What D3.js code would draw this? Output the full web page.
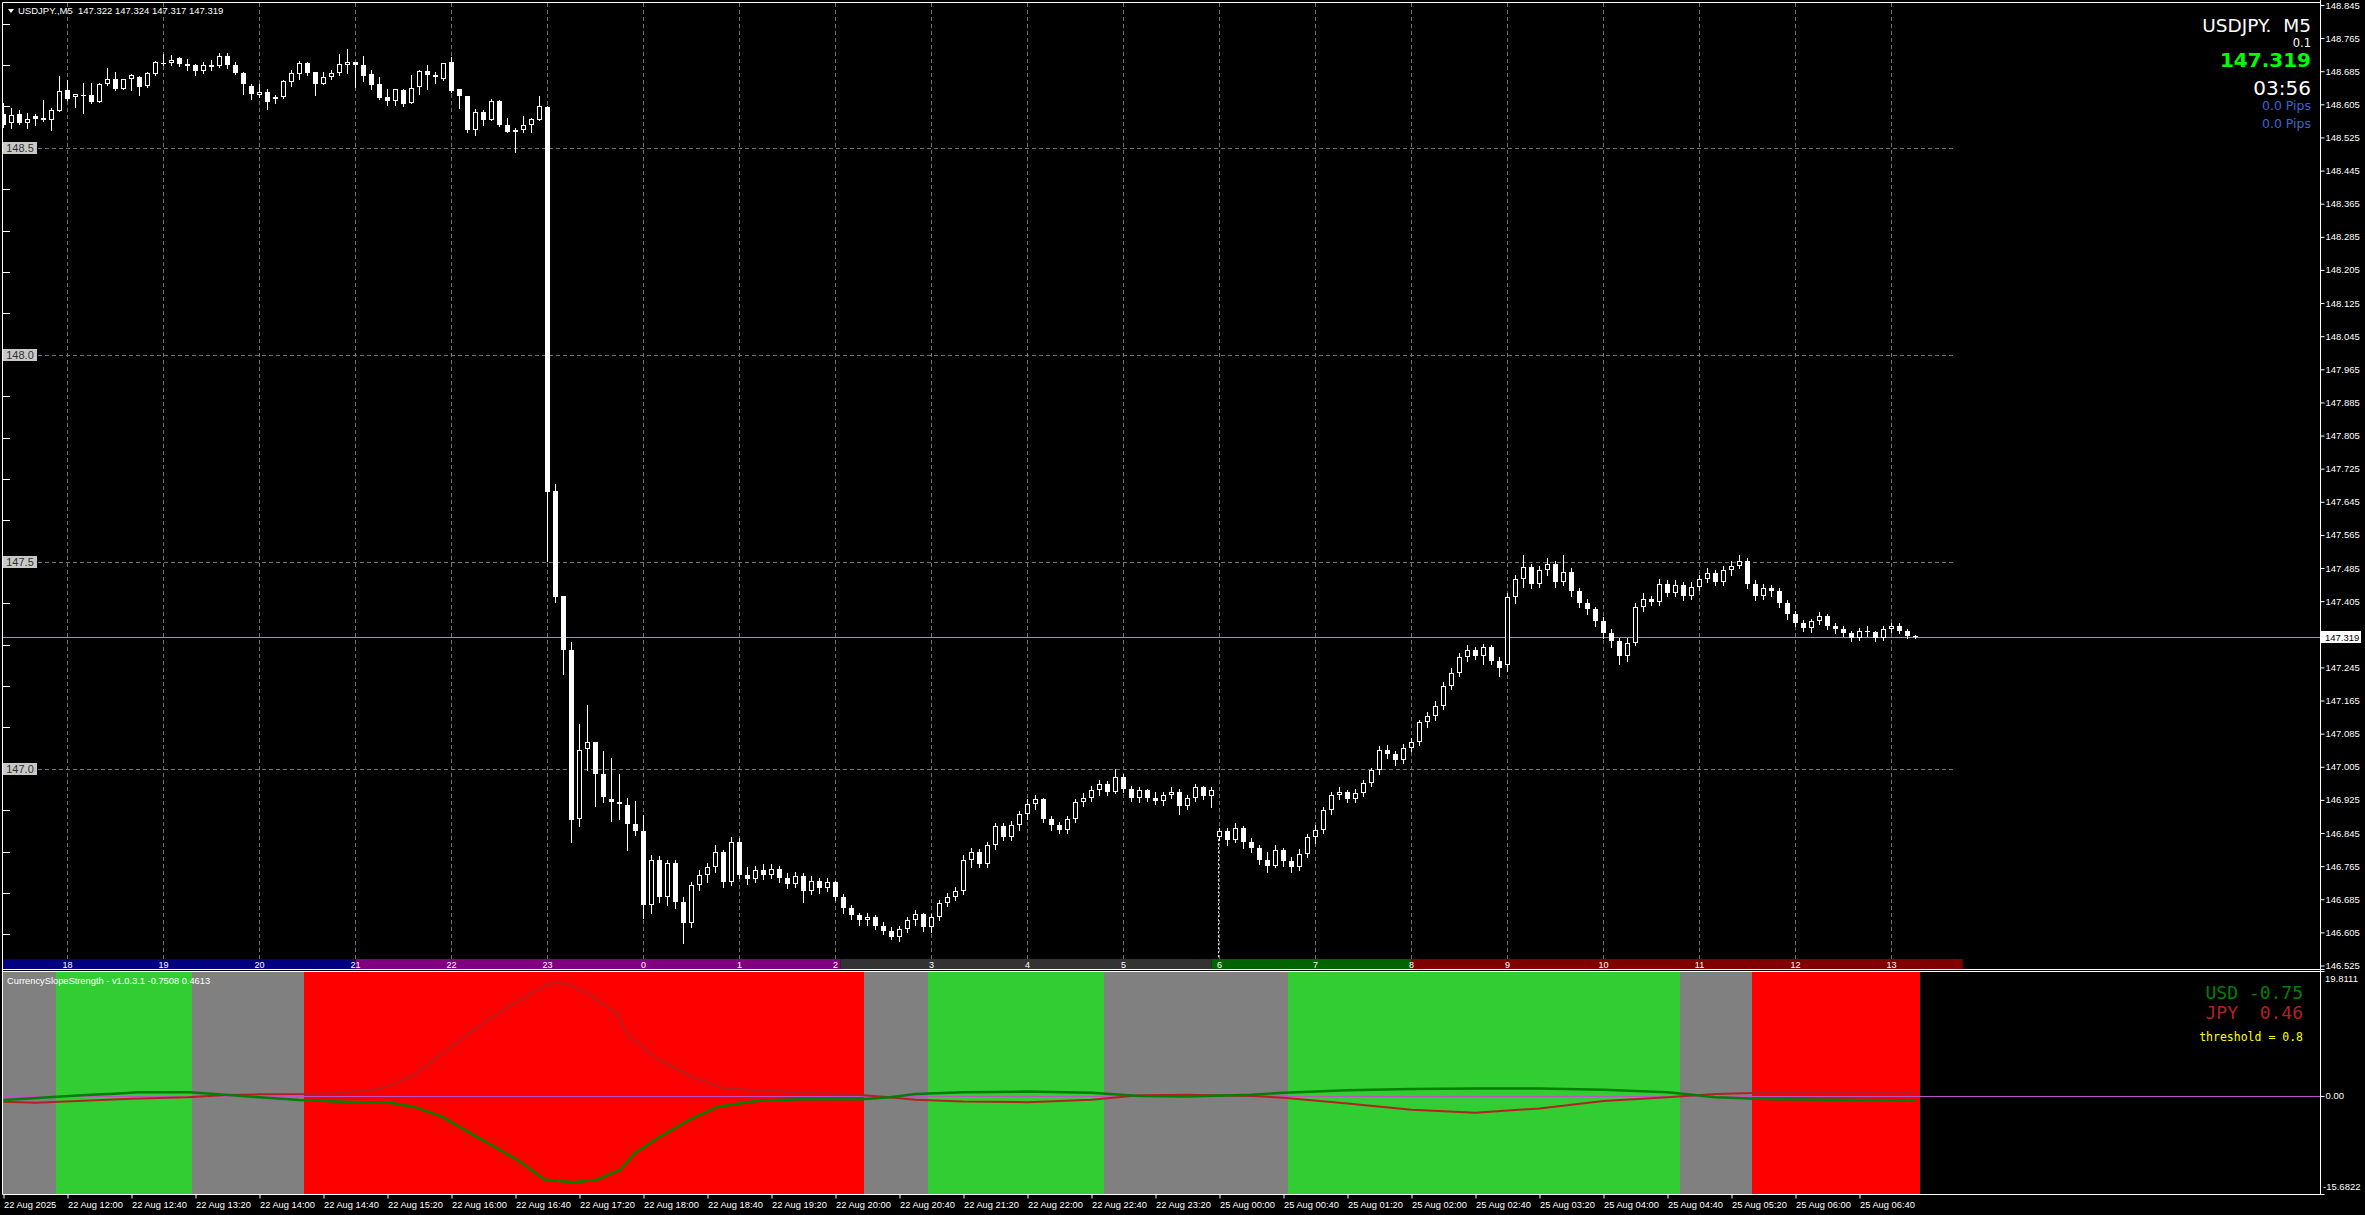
<!DOCTYPE html>
<html><head><meta charset="utf-8"><title>USDJPY M5</title>
<script src="https://cdn.jsdelivr.net/npm/d3@7/dist/d3.min.js"></script>
<style>
html,body{margin:0;padding:0;background:#000;overflow:hidden;}
svg{display:block;}
text{white-space:pre;}
</style></head><body>
<svg id="chart" width="2365" height="1215"></svg>
<script>
// ---------------- DATA ----------------
const FIRST_BAR = -8; // bar index of first visible candle (22 Aug 11:20); bar 0 = 22 Aug 12:00
// [open, high, low, close] per 5-minute bar
const ohlc = [
[148.581,148.607,148.551,148.555],[148.560,148.595,148.549,148.579],[148.581,148.591,148.557,148.559],[148.559,148.585,148.547,148.569],
[148.576,148.581,148.556,148.570],[148.571,148.615,148.565,148.567],[148.568,148.595,148.543,148.591],[148.589,148.674,148.589,148.637],
[148.639,148.663,148.615,148.618],[148.622,148.631,148.599,148.630],[148.626,148.657,148.583,148.628],[148.627,148.657,148.607,148.610],
[148.611,148.657,148.611,148.654],[148.655,148.692,148.651,148.667],[148.667,148.682,148.639,148.643],[148.643,148.667,148.641,148.665],
[148.667,148.678,148.639,148.675],[148.671,148.673,148.627,148.647],[148.650,148.684,148.647,148.680],[148.678,148.710,148.675,148.707],
[148.704,148.726,148.700,148.706],[148.705,148.724,148.700,148.713],[148.716,148.720,148.697,148.702],[148.702,148.714,148.689,148.697],
[148.699,148.702,148.676,148.685],[148.685,148.708,148.681,148.699],[148.700,148.713,148.688,148.696],[148.697,148.729,148.696,148.721],
[148.722,148.730,148.692,148.700],[148.700,148.708,148.678,148.680],[148.680,148.684,148.629,148.654],[148.649,148.655,148.618,148.630],
[148.628,148.654,148.623,148.634],[148.634,148.643,148.594,148.611],[148.622,148.627,148.609,148.618],[148.622,148.663,148.621,148.661],
[148.660,148.689,148.650,148.680],[148.679,148.710,148.666,148.704],[148.704,148.708,148.676,148.680],[148.682,148.683,148.628,148.655],
[148.655,148.684,148.654,148.671],[148.671,148.689,148.666,148.680],[148.681,148.726,148.675,148.702],[148.701,148.738,148.680,148.707],
[148.707,148.707,148.647,148.700],[148.700,148.721,148.662,148.674],[148.678,148.688,148.643,148.652],[148.655,148.671,148.618,148.621],
[148.623,148.643,148.603,148.612],[148.613,148.643,148.603,148.641],[148.639,148.641,148.602,148.605],[148.609,148.675,148.609,148.645],
[148.646,148.689,148.630,148.685],[148.685,148.701,148.642,148.675],[148.675,148.684,148.657,148.670],[148.666,148.706,148.664,148.704],
[148.707,148.720,148.635,148.637],[148.641,148.643,148.597,148.626],[148.625,148.625,148.539,148.543],[148.544,148.593,148.532,148.587],
[148.587,148.591,148.555,148.568],[148.568,148.617,148.567,148.614],[148.614,148.615,148.552,148.556],[148.556,148.571,148.538,148.539],
[148.538,148.547,148.490,148.543],[148.543,148.576,148.539,148.556],[148.556,148.572,148.539,148.569],[148.568,148.625,148.567,148.600],
[148.598,148.600,147.503,147.668],[147.671,147.688,147.402,147.414],[147.417,147.417,147.230,147.288],[147.287,147.306,146.824,146.877],
[146.880,147.108,146.862,147.046],[147.047,147.154,146.998,147.066],[147.065,147.066,146.911,146.988],[146.988,147.043,146.920,146.931],
[146.927,147.027,146.873,146.919],[146.921,146.988,146.880,146.914],[146.912,146.930,146.803,146.866],[146.866,146.922,146.839,146.851],
[146.850,146.889,146.640,146.670],
[146.672,146.791,146.653,146.781],[146.781,146.790,146.679,146.690],[146.690,146.781,146.672,146.773],[146.773,146.781,146.664,146.679],
[146.679,146.690,146.580,146.628],[146.628,146.726,146.617,146.719],[146.719,146.755,146.708,146.744],[146.744,146.773,146.726,146.762],
[146.762,146.817,146.751,146.799],[146.799,146.805,146.715,146.726],[146.726,146.835,146.719,146.824],[146.824,146.832,146.737,146.744],
[146.744,146.762,146.722,146.735],[146.735,146.766,146.726,146.755],[146.755,146.769,146.733,146.744],[146.744,146.770,146.737,146.758],
[146.758,146.766,146.726,146.737],[146.737,146.748,146.712,146.722],[146.722,146.751,146.715,146.740],[146.740,146.748,146.679,146.705],
[146.705,146.740,146.697,146.730],[146.730,146.737,146.701,146.712],[146.712,146.737,146.705,146.726],[146.726,146.730,146.683,146.690],
[146.690,146.697,146.653,146.664],[146.664,146.672,146.638,146.646],[146.646,146.653,146.624,146.635],[146.635,146.653,146.624,146.642],
[146.642,146.646,146.613,146.620],[146.620,146.631,146.602,146.609],[146.609,146.617,146.588,146.595],[146.595,146.620,146.584,146.613],
[146.613,146.642,146.606,146.635],[146.635,146.660,146.624,146.649],[146.649,146.653,146.609,146.617],[146.617,146.649,146.606,146.642],
[146.642,146.683,146.635,146.675],[146.675,146.701,146.668,146.690],[146.690,146.715,146.683,146.705],[146.705,146.791,146.697,146.781],
[146.781,146.810,146.762,146.799],[146.799,146.806,146.762,146.770],[146.770,146.824,146.762,146.817],[146.817,146.868,146.806,146.861],
[146.861,146.868,146.828,146.835],[146.835,146.875,146.828,146.864],[146.864,146.897,146.853,146.890],[146.890,146.926,146.879,146.915],
[146.915,146.937,146.904,146.926],[146.926,146.930,146.872,146.879],[146.879,146.886,146.853,146.864],[146.864,146.872,146.846,146.853],
[146.853,146.886,146.846,146.879],[146.879,146.926,146.872,146.919],[146.919,146.941,146.910,146.930],[146.930,146.959,146.923,146.948],
[146.948,146.974,146.937,146.963],[146.963,146.970,146.937,146.945],[146.945,146.999,146.941,146.981],[146.981,146.988,146.945,146.952],
[146.952,146.959,146.923,146.930],[146.930,146.955,146.919,146.948],[146.948,146.952,146.923,146.930],[146.930,146.945,146.915,146.923],
[146.923,146.945,146.912,146.937],[146.937,146.955,146.930,146.945],[146.945,146.952,146.890,146.910],[146.910,146.937,146.904,146.930],
[146.930,146.963,146.923,146.955],[146.955,146.959,146.926,146.934],[146.934,146.955,146.908,146.948],
[146.835,146.857,146.828,146.850],[146.850,146.857,146.817,146.828],[146.828,146.868,146.824,146.857],[146.857,146.861,146.810,146.824],
[146.824,146.832,146.799,146.810],[146.810,146.817,146.770,146.781],[146.781,146.799,146.751,146.766],[146.766,146.817,146.762,146.803],
[146.803,146.810,146.766,146.777],[146.777,146.788,146.751,146.762],[146.762,146.806,146.755,146.795],[146.795,146.843,146.788,146.835],
[146.835,146.864,146.821,146.853],[146.853,146.908,146.846,146.901],[146.901,146.945,146.890,146.937],[146.937,146.955,146.926,146.945],
[146.945,146.948,146.919,146.926],[146.926,146.952,146.919,146.941],[146.941,146.974,146.934,146.966],[146.966,147.003,146.959,146.996],
[146.996,147.054,146.988,147.046],[147.046,147.057,147.025,147.036],[147.036,147.043,147.010,147.021],[147.021,147.061,147.014,147.050],
[147.050,147.075,147.043,147.065],[147.065,147.119,147.057,147.112],[147.112,147.138,147.101,147.127],[147.127,147.163,147.119,147.152],
[147.152,147.210,147.145,147.199],[147.199,147.243,147.192,147.232],[147.232,147.280,147.225,147.269],[147.269,147.298,147.261,147.287],
[147.287,147.294,147.265,147.272],[147.272,147.302,147.254,147.294],[147.294,147.298,147.254,147.261],[147.261,147.269,147.225,147.243],
[147.250,147.425,147.236,147.414],[147.414,147.469,147.400,147.458],[147.458,147.516,147.440,147.487],[147.487,147.495,147.436,147.447],
[147.447,147.491,147.440,147.480],[147.480,147.509,147.469,147.495],[147.495,147.502,147.440,147.451],[147.451,147.516,147.444,147.476],
[147.476,147.484,147.418,147.429],[147.429,147.436,147.392,147.400],[147.400,147.411,147.374,147.385],[147.385,147.392,147.345,147.356],
[147.356,147.367,147.316,147.327],[147.327,147.338,147.294,147.309],[147.309,147.316,147.254,147.272],[147.272,147.316,147.261,147.305],
[147.305,147.400,147.298,147.392],[147.392,147.425,147.381,147.411],[147.411,147.418,147.396,147.403],[147.403,147.458,147.396,147.447],
[147.447,147.455,147.418,147.425],[147.425,147.455,147.418,147.444],[147.444,147.451,147.407,147.418],[147.418,147.451,147.411,147.440],
[147.440,147.469,147.433,147.458],[147.458,147.484,147.451,147.473],[147.473,147.480,147.444,147.451],[147.451,147.491,147.444,147.480],
[147.480,147.502,147.469,147.491],[147.491,147.516,147.484,147.502],[147.502,147.509,147.436,147.447],[147.447,147.455,147.407,147.418],
[147.418,147.447,147.411,147.436],[147.436,147.444,147.418,147.429],[147.429,147.436,147.392,147.400],[147.400,147.407,147.363,147.374],
[147.374,147.381,147.345,147.352],[147.352,147.360,147.334,147.341],[147.341,147.363,147.330,147.356],[147.356,147.378,147.349,147.370],
[147.370,147.374,147.338,147.345],[147.345,147.352,147.327,147.338],[147.338,147.345,147.320,147.327],[147.327,147.334,147.309,147.316],
[147.316,147.341,147.312,147.334],[147.334,147.345,147.320,147.330],[147.330,147.334,147.309,147.316],[147.316,147.345,147.312,147.338],
[147.338,147.352,147.330,147.345],[147.345,147.352,147.327,147.334],[147.334,147.338,147.316,147.322],[147.322,147.324,147.317,147.319]
];

const lastPrice = 147.319;
const priceTicks = [148.845,148.765,148.685,148.605,148.525,148.445,148.365,148.285,148.205,148.125,148.045,
147.965,147.885,147.805,147.725,147.645,147.565,147.485,147.405,147.245,147.165,147.085,147.005,146.925,
146.845,146.765,146.685,146.605,146.525];
const gridLevels = [148.5,148.0,147.5,147.0];
const gridLevelLabels = ["148.5","148.0","147.5","147.0"];
const leftTickLevels = [148.8,148.7,148.6,148.4,148.3,148.2,148.1,147.9,147.8,147.7,147.6,147.4,147.3,147.2,147.1,146.9,146.8,146.7,146.6];
const timeTicks = [-8,0,8,16,24,32,40,48,56,64,72,80,88,96,104,112,120,128,136,144,152,160,168,176,184,192,200,208,216,224];
const timeLabels = ["22 Aug 2025","22 Aug 12:00","22 Aug 12:40","22 Aug 13:20","22 Aug 14:00","22 Aug 14:40","22 Aug 15:20",
"22 Aug 16:00","22 Aug 16:40","22 Aug 17:20","22 Aug 18:00","22 Aug 18:40","22 Aug 19:20","22 Aug 20:00","22 Aug 20:40",
"22 Aug 21:20","22 Aug 22:00","22 Aug 22:40","22 Aug 23:20","25 Aug 00:00","25 Aug 00:40","25 Aug 01:20","25 Aug 02:00",
"25 Aug 02:40","25 Aug 03:20","25 Aug 04:00","25 Aug 04:40","25 Aug 05:20","25 Aug 06:00","25 Aug 06:40"];
const hourBars = [0,12,24,36,48,60,72,84,96,108,120,132,144,156,168,180,192,204,216,228];
const sessionHourLabels = ["18","19","20","21","22","23","0","1","2","3","4","5","6","7","8","9","10","11","12","13"];
// [fromBar, toBar, colour]
const sessionRuns = [[-8.5,36,"#000080"],[36,96.6,"#800080"],[96.6,143,"#333333"],[143,168,"#006400"],[168,236.9,"#800000"]];
// [firstBar, lastBar, state]  state: 1 = USD strong, -1 = USD weak, 0 = neutral
const stateRuns = [[-8,-2,0],[-1,15,1],[16,29,0],[30,99,-1],[100,107,0],[108,129,1],[130,152,0],[153,201,1],[202,210,0],[211,231,-1]];
const usdLine = [[-8,-0.65],[-1.3,-0.12],[2.3,0.14],[5.9,0.36],[8.8,0.57],[15.3,0.57],[18.8,0.25],[24,-0.23],[29,-0.65],[34.6,-0.92],
[40.4,-1.08],[43.2,-1.72],[46.8,-3.32],[51.1,-6.5],[56.2,-10.2],[59.7,-13.4],[63.3,-13.8],[66.2,-13.4],[69.1,-11.8],[70.9,-9.2],
[74.1,-6.5],[77.7,-3.85],[81.3,-1.72],[86.3,-0.76],[92,-0.55],[99.2,-0.55],[102.8,-0.23],[106,0.3],[112,0.6],[120,0.7],[128,0.5],
[134,0.0],[140,-0.1],[148,0.2],[152,0.5],[160,0.9],[168,1.1],[176,1.2],[184,1.2],[192,1.0],[200,0.6],[206,-0.2],[212,-0.5],[231,-0.75]];
const jpyLine = [[-8,-0.93],[-4,-1.08],[2,-0.76],[8,-0.44],[15,-0.23],[20,0.14],[24,0.25],[30,0.3],[34,0.51],[38,0.94],[40,1.48],
[43,3.08],[48,7.87],[53,12.66],[58,16.4],[60.5,18.1],[62.6,17.9],[65,16.4],[68.7,13.2],[70,9.74],[74,5.74],[78,3.07],[82,1.21],
[88,0.78],[95,0.41],[99,0.14],[102,-0.12],[106,-0.6],[112,-0.9],[120,-1.0],[128,-0.6],[134,0.1],[140,0.2],[148,0.0],[152,-0.3],
[160,-1.2],[168,-2.2],[176,-2.7],[184,-2.0],[192,-0.8],[200,-0.2],[206,0.3],[212,0.5],[231,0.46]];
const indMax = 19.8111, indMin = -15.6822;

// ---------------- BUILD ----------------
const bars = ohlc.map((d,k)=>({i:k+FIRST_BAR,o:d[0],h:d[1],l:d[2],c:d[3]}));

const AX = '"Liberation Sans",Arial,sans-serif';
const PL=2.5, PR=2320.5, MT=2.5, MB=969.5, IT=971.5, IB=1194.5;
const svg = d3.select("#chart");
svg.append("rect").attr("width",2365).attr("height",1215).attr("fill","#000");

const x = d3.scaleLinear().domain([0,1]).range([67.5,75.5]);
const y = d3.scaleLinear().domain([146.525,148.5]).range([965.5,147.8]);
const yi = d3.scaleLinear().domain([indMin,indMax]).range([1194,972]);

const defs = svg.append("defs");
defs.append("clipPath").attr("id","cm").append("rect").attr("x",3).attr("y",3).attr("width",PR-3).attr("height",956);
defs.append("clipPath").attr("id","ci").append("rect").attr("x",3).attr("y",972).attr("width",PR-3).attr("height",222);

// grid
const grid = svg.append("g").attr("clip-path","url(#cm)");
grid.selectAll("line.h").data(gridLevels).join("line")
  .attr("x1",3).attr("x2",1955).attr("y1",d=>Math.round(y(d))+0.5).attr("y2",d=>Math.round(y(d))+0.5)
  .attr("stroke","#707070").attr("stroke-dasharray","4,3");
grid.selectAll("line.v").data(hourBars).join("line")
  .attr("x1",d=>x(d)).attr("x2",d=>x(d)).attr("y1",3).attr("y2",969)
  .attr("stroke","#707070").attr("stroke-dasharray","4,3");

// current price line
svg.append("line").attr("x1",3).attr("x2",PR).attr("y1",Math.round(y(lastPrice))+0.5).attr("y2",Math.round(y(lastPrice))+0.5)
  .attr("stroke","#8c9bb0");

// weekend separator
svg.append("line").attr("x1",x(144)-1).attr("x2",x(144)-1).attr("y1",y(146.83)).attr("y2",959)
  .attr("stroke","#fff").attr("stroke-dasharray","2,2");

// candles
const cg = svg.append("g").attr("clip-path","url(#cm)");
cg.selectAll("line.w").data(bars).join("line")
  .attr("x1",d=>x(d.i)).attr("x2",d=>x(d.i))
  .attr("y1",d=>Math.round(y(d.h))).attr("y2",d=>Math.round(y(d.l))+1)
  .attr("stroke","#fff");
const isFilled = d=>d.c<d.o || Math.abs(Math.round(y(d.o))-Math.round(y(d.c)))<2;
cg.selectAll("rect.bear").data(bars.filter(isFilled)).join("rect")
  .attr("x",d=>x(d.i)-2.5).attr("width",5)
  .attr("y",d=>Math.round(y(Math.max(d.o,d.c))))
  .attr("height",d=>Math.max(1,Math.round(y(Math.min(d.o,d.c)))-Math.round(y(Math.max(d.o,d.c)))))
  .attr("fill","#fff");
cg.selectAll("rect.bull").data(bars.filter(d=>!isFilled(d))).join("rect")
  .attr("x",d=>x(d.i)-2).attr("width",4)
  .attr("y",d=>Math.round(y(d.c))+0.5)
  .attr("height",d=>Math.round(y(d.o))-Math.round(y(d.c))-1)
  .attr("fill","#000").attr("stroke","#fff");

// left level ticks and labels
svg.selectAll("line.lt").data(leftTickLevels).join("line")
  .attr("x1",3).attr("x2",10).attr("y1",d=>Math.round(y(d))+0.5).attr("y2",d=>Math.round(y(d))+0.5).attr("stroke","#fff");
const lab = svg.selectAll("g.gl").data(gridLevels).join("g")
  .attr("transform",d=>`translate(3,${Math.round(y(d))-6})`);
lab.append("rect").attr("width",34).attr("height",12).attr("fill","#c8c8c8");
lab.append("text").attr("x",17).attr("y",10).attr("text-anchor","middle")
  .attr("fill","#303030").style("font-family",AX).style("font-size","11px").text((d,k)=>gridLevelLabels[k]);

// session bar
const sg = svg.append("g");
sg.selectAll("rect").data(sessionRuns).join("rect")
  .attr("x",d=>Math.max(3,x(d[0]))).attr("width",d=>x(d[1])-Math.max(3,x(d[0])))
  .attr("y",959).attr("height",10).attr("fill",d=>d[2]);
sg.selectAll("text").data(hourBars).join("text")
  .attr("x",d=>x(d)).attr("y",967.5).attr("text-anchor","middle").attr("fill","#fff")
  .style("font-family",AX).style("font-size","9px").text((d,k)=>sessionHourLabels[k]);

// indicator background states
const stateColor = {"1":"#32cd32","-1":"#ff0000","0":"#808080"};
const stateBars = [];
stateRuns.forEach(r=>{for(let i=r[0];i<=r[1];i++) stateBars.push({i:i,s:r[2]});});
const ig = svg.append("g").attr("clip-path","url(#ci)");
ig.selectAll("rect").data(stateBars).join("rect")
  .attr("x",d=>x(d.i)-4).attr("width",8).attr("y",972).attr("height",222)
  .attr("fill",d=>stateColor[d.s]).attr("shape-rendering","crispEdges");
ig.append("line").attr("x1",3).attr("x2",PR).attr("y1",Math.round(yi(0))+0.5).attr("y2",Math.round(yi(0))+0.5)
  .attr("stroke","#c050c8");
const ln = d3.line().x(d=>x(d[0])).y(d=>yi(d[1]));
ig.append("path").datum(jpyLine).attr("d",ln).attr("fill","none").attr("stroke","#b22222").attr("stroke-width",2);
ig.append("path").datum(usdLine).attr("d",ln).attr("fill","none").attr("stroke","#008000").attr("stroke-width",2.5);

// frames
const fr = svg.append("g").attr("stroke","#fff").attr("fill","none");
fr.append("line").attr("x1",PL).attr("x2",PR).attr("y1",MT).attr("y2",MT);
fr.append("line").attr("x1",PL).attr("x2",PL).attr("y1",MT).attr("y2",IB);
fr.append("line").attr("x1",PR).attr("x2",PR).attr("y1",0).attr("y2",IB);
fr.append("line").attr("x1",PL).attr("x2",PR+4).attr("y1",MB).attr("y2",MB);
fr.append("line").attr("x1",PL).attr("x2",PR+4).attr("y1",IT).attr("y2",IT);
fr.append("line").attr("x1",PL).attr("x2",PR+4).attr("y1",IB).attr("y2",IB);

// price axis
const axP = d3.axisRight(y).tickValues(priceTicks).tickFormat(d3.format(".3f")).tickSize(4).tickPadding(1);
const gP = svg.append("g").attr("transform","translate(2320.5,0)").call(axP);
gP.select(".domain").remove();
gP.selectAll("line").attr("stroke","#fff");
gP.selectAll("text").attr("fill","#fff").style("font-family",AX).style("font-size","9.5px");
// last price box
svg.append("rect").attr("x",2321).attr("y",Math.round(y(lastPrice))-6).attr("width",40).attr("height",12).attr("fill","#fff");
svg.append("text").attr("x",2325).attr("y",Math.round(y(lastPrice))+4).attr("fill","#000")
  .style("font-family",AX).style("font-size","9.5px").text(lastPrice.toFixed(3));

// indicator axis
const axI = d3.axisRight(yi).tickValues([0]).tickFormat(d3.format(".2f")).tickSize(4).tickPadding(1);
const gI = svg.append("g").attr("transform","translate(2320.5,0)").call(axI);
gI.select(".domain").remove();
gI.selectAll("line").attr("stroke","#fff");
gI.selectAll("text").attr("fill","#fff").style("font-family",AX).style("font-size","9.5px");
svg.append("text").attr("x",2325).attr("y",982).attr("fill","#fff").style("font-family",AX).style("font-size","9.5px").text(indMax.toFixed(4));
svg.append("text").attr("x",2323).attr("y",1190).attr("fill","#fff").style("font-family",AX).style("font-size","9.5px").text(indMin.toFixed(4));

// time axis
const axT = d3.axisBottom(x).tickValues(timeTicks).tickFormat((d,k)=>timeLabels[k]).tickSize(4).tickPadding(3);
const gT = svg.append("g").attr("transform","translate(0,1194.5)").call(axT);
gT.select(".domain").remove();
gT.selectAll("line").attr("stroke","#fff");
gT.selectAll("text").attr("fill","#fff").attr("text-anchor","start").attr("x",0)
  .style("font-family",AX).style("font-size","9.3px");

// header texts
svg.append("path").attr("d","M8,9 L14,9 L11,13 Z").attr("fill","#fff");
svg.append("text").attr("x",18).attr("y",14).attr("fill","#fff").style("font-family",AX).style("font-size","9.5px")
  .text("USDJPY.,M5  147.322 147.324 147.317 147.319");
const tr = [["USDJPY.  M5",32,"18.5px","normal","#ffffff"],["0.1",46.5,"11.5px","normal","#ffffff"],
  ["147.319",66.5,"20px","bold","#00ff00"],["03:56",95,"20px","normal","#ffffff"],
  ["0.0 Pips",110,"12.5px","normal","#3c64d8"],["0.0 Pips",128,"12.5px","normal","#3c64d8"]];
svg.selectAll("text.tr").data(tr).join("text").attr("x",2311).attr("y",d=>d[1]).attr("text-anchor","end")
  .attr("fill",d=>d[4]).style("font-family","'DejaVu Sans',Verdana,sans-serif").style("font-size",d=>d[2]).style("font-weight",d=>d[3])
  .text(d=>d[0]);

// indicator caption + legend
svg.append("text").attr("x",7).attr("y",984).attr("fill","#fff").style("font-family",AX).style("font-size","9.3px")
  .text("CurrencySlopeStrength - v1.0.3.1 -0.7508 0.4613");
const lg = [["USD -0.75",999,"18px","#008000"],["JPY  0.46",1019,"18px","#b22222"],["threshold = 0.8",1041,"11.5px","#ffff00"]];
svg.selectAll("text.lg").data(lg).join("text").attr("x",2303).attr("y",d=>d[1]).attr("text-anchor","end")
  .attr("fill",d=>d[3]).style("font-family","'DejaVu Sans Mono',monospace").style("font-size",d=>d[2])
  .text(d=>d[0]);
</script>
</body></html>
